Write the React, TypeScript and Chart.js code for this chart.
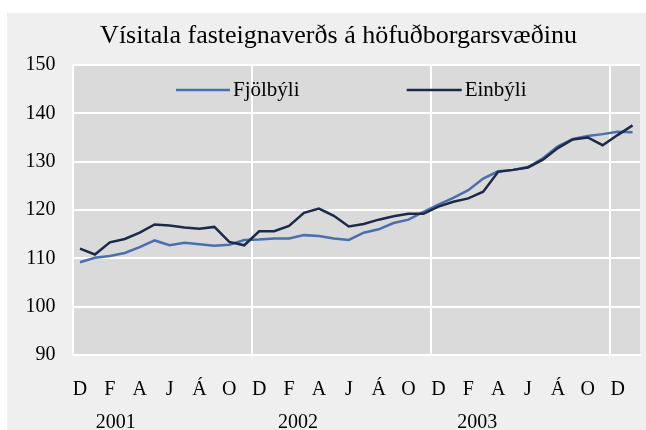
import React, { useEffect, useRef } from 'react';
import { Chart, registerables } from 'chart.js';

Chart.register(...registerables);

const TITLE = 'Vísitala fasteignaverðs á höfuðborgarsvæðinu';

// Monthly categories, December 2000 to January 2004
const months = [
  'D',
  'J', 'F', 'M', 'A', 'M', 'J', 'J', 'Á', 'S', 'O', 'N', 'D',
  'J', 'F', 'M', 'A', 'M', 'J', 'J', 'Á', 'S', 'O', 'N', 'D',
  'J', 'F', 'M', 'A', 'M', 'J', 'J', 'Á', 'S', 'O', 'N', 'D',
  'J',
];

const years = ['2001', '2002', '2003'];
const yearPositions = [2.4, 14.6, 26.6];

const fjolbyli = [
  109.2,
  110.1, 110.5, 111.1, 112.3, 113.7, 112.7, 113.2, 112.9, 112.6, 112.8, 113.8, 113.9,
  114.1, 114.1, 114.8, 114.6, 114.1, 113.8, 115.3, 116.0, 117.3, 118.0, 119.6, 121.1,
  122.5, 124.1, 126.5, 128.0, 128.3, 128.9, 130.7, 133.2, 134.7, 135.3, 135.7, 136.2,
  136.1,
];

const einbyli = [
  112.0,
  110.8, 113.3, 114.0, 115.3, 117.0, 116.8, 116.4, 116.1, 116.5, 113.4, 112.7, 115.6,
  115.6, 116.7, 119.4, 120.3, 118.8, 116.6, 117.1, 118.0, 118.7, 119.2, 119.2, 120.7,
  121.7, 122.4, 123.8, 127.9, 128.3, 128.8, 130.4, 132.8, 134.6, 135.0, 133.4, 135.5,
  137.5,
];

const yTicks = [90, 100, 110, 120, 130, 140, 150];

const FONT = "'Liberation Serif', 'Times New Roman', serif";
const BLUE = '#4a6fae';
const NAVY = '#1d2a47';

const plotBg = {
  id: 'plotBg',
  afterLayout(chart: any) {
    // let the y tick labels use the space left of the axis box (title centring padding)
    if (chart.scales.y) chart.scales.y.left = 0;
  },
  beforeDraw(chart: any) {
    const { ctx, chartArea } = chart;
    ctx.save();
    ctx.fillStyle = '#dadada';
    ctx.fillRect(chartArea.left, chartArea.top, chartArea.width, chartArea.height);
    ctx.restore();
  },
};

const innerLegend = {
  id: 'innerLegend',
  afterDraw(chart: any) {
    const { ctx, chartArea } = chart;
    const spots = [
      { x0: 103.5, x1: 157.5 },
      { x0: 334.2, x1: 389.2 },
    ];
    const y = chartArea.top + 25;
    ctx.save();
    chart.data.datasets.forEach((ds: any, i: number) => {
      const s = spots[i];
      ctx.strokeStyle = ds.borderColor;
      ctx.lineWidth = 2.5;
      ctx.beginPath();
      ctx.moveTo(chartArea.left + s.x0, y);
      ctx.lineTo(chartArea.left + s.x1, y);
      ctx.stroke();
      ctx.fillStyle = '#000';
      ctx.font = `21px ${FONT}`;
      ctx.textBaseline = 'middle';
      ctx.textAlign = 'left';
      ctx.fillText(ds.label, chartArea.left + s.x1 + 3, y);
    });
    ctx.restore();
  },
};

export default function App() {
  const ref = useRef<HTMLCanvasElement | null>(null);

  useEffect(() => {
    if (!ref.current) return;
    const chart = new Chart(ref.current, {
      type: 'line',
      data: {
        labels: months,
        datasets: [
          {
            label: 'Fjölbýli',
            data: fjolbyli,
            borderColor: BLUE,
            backgroundColor: BLUE,
            borderWidth: 2.5,
            pointRadius: 0,
            tension: 0,
            order: 1,
          },
          {
            label: 'Einbýli',
            data: einbyli,
            borderColor: NAVY,
            backgroundColor: NAVY,
            borderWidth: 2.5,
            pointRadius: 0,
            tension: 0,
            order: 0,
          },
        ],
      },
      options: {
        animation: false,
        responsive: true,
        maintainAspectRatio: false,
        layout: { padding: { left: 30, right: 6, top: 0, bottom: 0 } },
        plugins: {
          legend: { display: false },
          tooltip: { enabled: false },
          title: {
            display: true,
            text: TITLE,
            color: '#000',
            font: { family: FONT, size: 26, weight: 'normal' },
            padding: { top: 7.5, bottom: 13.3 },
          },
        },
        scales: {
          x: {
            type: 'category',
            offset: true,
            weight: 0,
            grid: {
              display: true,
              offset: true,
              drawTicks: false,
              lineWidth: 2,
              color: (c: any) => (c.index > 0 && c.index % 12 === 0 ? '#ffffff' : 'rgba(0,0,0,0)'),
            },
            border: { display: true, color: '#ffffff', width: 2 },
            ticks: {
              autoSkip: false,
              maxRotation: 0,
              minRotation: 0,
              padding: 0,
              color: '#000',
              font: { family: FONT, size: 20, lineHeight: 3.5 },
              callback: (_v: any, i: number) => (i % 2 === 0 ? months[i] : ''),
            },
            afterFit: (s: any) => {
              s.height = 42;
            },
          },
          x2: {
            type: 'linear',
            position: 'bottom',
            weight: 1,
            min: -0.5,
            max: months.length - 0.5,
            grid: { display: false, drawTicks: false },
            border: { display: false },
            afterBuildTicks: (s: any) => {
              s.ticks = yearPositions.map((v) => ({ value: v }));
            },
            ticks: {
              autoSkip: false,
              maxRotation: 0,
              minRotation: 0,
              padding: 0,
              color: '#000',
              font: { family: FONT, size: 20, lineHeight: 2.6 },
              callback: (_v: any, i: number) => years[i],
            },
            afterFit: (s: any) => {
              s.height = 33;
            },
          },
          y: {
            min: 90,
            max: 150,
            afterBuildTicks: (s: any) => {
              s.ticks = yTicks.map((v) => ({ value: v }));
            },
            grid: { color: '#ffffff', lineWidth: 2, drawTicks: false },
            border: { display: true, color: '#ffffff', width: 2 },
            ticks: {
              padding: 17,
              color: '#000',
              font: { family: FONT, size: 20 },
            },
            afterFit: (s: any) => {
              s.width = 35.5;
            },
          },
        },
      },
      plugins: [plotBg, innerLegend],
    });
    return () => chart.destroy();
  }, []);

  return (
    <div
      style={{
        position: 'absolute',
        left: 7,
        top: 13,
        width: 639,
        height: 417,
        background: '#efefef',
      }}
    >
      <canvas ref={ref} />
    </div>
  );
}
